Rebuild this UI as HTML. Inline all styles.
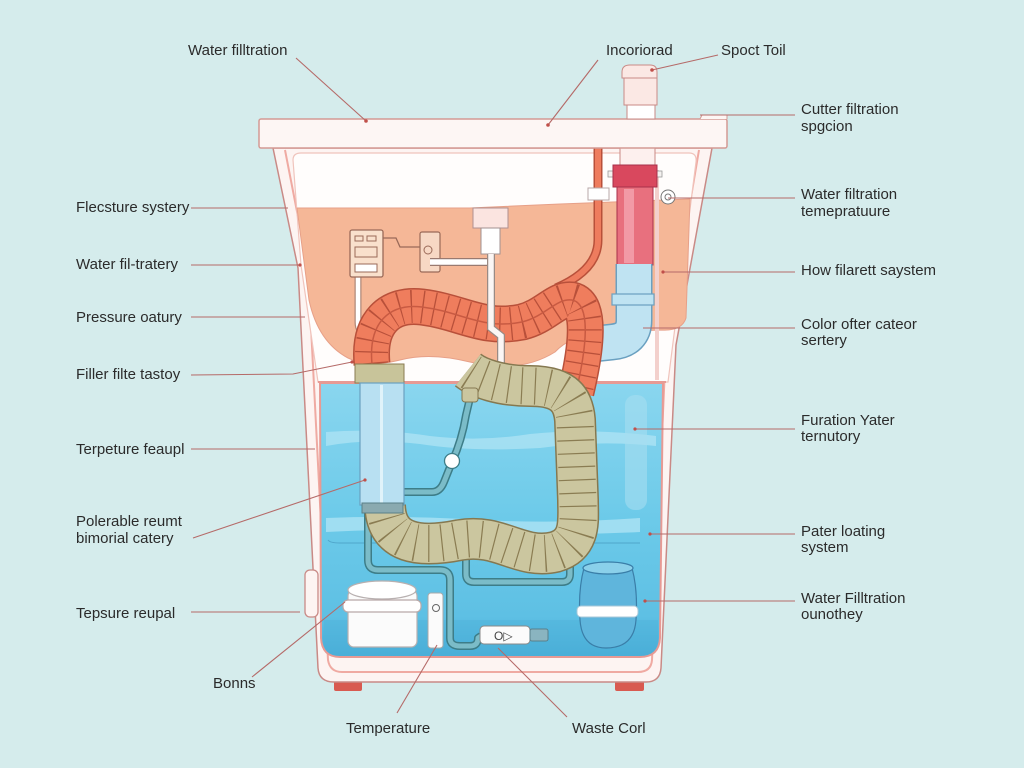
<!DOCTYPE html>
<html><head><meta charset="utf-8"><style>
html,body{margin:0;padding:0;background:#d5ecec;}
svg{display:block;}
text{font-family:"Liberation Sans",sans-serif;font-size:15px;fill:#2b2b2b;}
</style></head><body>
<svg width="1024" height="768" viewBox="0 0 1024 768" xmlns="http://www.w3.org/2000/svg">
<rect width="1024" height="768" fill="#d5ecec"/>

<!-- feet -->
<rect x="334" y="680" width="28" height="11" rx="2" fill="#d85a50"/>
<rect x="615" y="680" width="29" height="11" rx="2" fill="#d85a50"/>

<!-- tank body -->
<path d="M273 148 L298 268 L318 668 Q319 682 334 682 L646 682 Q660 682 661 668 L676 345 L712 148 Z" fill="#fdf4f2" stroke="#c98a86" stroke-width="1.5"/>
<path d="M285 150 L308 268 L328 660 Q330 672 342 672 L638 672 Q651 672 652 660 L666 345 L699 150" fill="none" stroke="#efaaa2" stroke-width="2"/>
<!-- handle -->
<rect x="305" y="570" width="13" height="47" rx="5" fill="#fdf4f2" stroke="#c98a86" stroke-width="1.3"/>

<!-- inner panel -->
<path d="M293 160 Q293 153 301 153 L689 153 Q697 153 696 162 L668 382 L318 382 L301 265 Z" fill="#fffdfc" stroke="#f0c4bc" stroke-width="1.2"/>

<!-- orange region -->
<path d="M297 208 L470 208 L560 204 L690 199 L686 318 Q682 331 662 330 L600 332 Q570 336 555 352 Q520 374 470 362 Q430 352 400 360 Q368 368 348 358 Q318 342 309 300 Z" fill="#f5b797" stroke="#e7a088" stroke-width="1"/>
<rect x="655" y="170" width="4" height="210" fill="#f3d0cc"/>

<!-- water region -->
<defs>
<linearGradient id="wg" x1="0" y1="0" x2="0" y2="1">
<stop offset="0" stop-color="#8ad6ef"/>
<stop offset="0.5" stop-color="#6ccae9"/>
<stop offset="0.85" stop-color="#5ec0e4"/>
<stop offset="1" stop-color="#4aaed8"/>
</linearGradient>
</defs>
<path d="M320 383 L663 383 L660 638 Q659 657 640 657 L340 657 Q322 657 321 638 Z" fill="url(#wg)" stroke="#e79a94" stroke-width="2"/>
<line x1="318" y1="382" x2="666" y2="382" stroke="#e79a94" stroke-width="2"/>
<!-- water bands -->
<path d="M326 432 Q380 428 430 436 Q480 442 530 434 Q590 428 656 436 L656 446 Q600 440 540 448 Q470 452 420 444 Q370 438 326 446 Z" fill="#a9e2f3" opacity="0.85"/>
<path d="M326 518 Q400 515 480 520 Q560 524 640 518 L640 532 Q560 536 480 530 Q400 528 326 532 Z" fill="#a9e2f3" opacity="0.85"/>
<path d="M328 540 Q330 543 340 543 L640 543" fill="none" stroke="#3f8fb8" stroke-width="1" opacity="0.6"/>
<rect x="625" y="395" width="22" height="115" rx="10" fill="#a6def0" opacity="0.6"/>
<path d="M324 620 L658 620 L658 640 Q657 655 640 655 L340 655 Q324 655 323 640 Z" fill="#4aaed8" opacity="0.35"/>

<!-- orange thin pipe -->
<path d="M556 288 Q598 270 598 240 L598 150 Q598 136 612 136 Q626 136 626 150 L626 156" fill="none" stroke="#b8503a" stroke-width="9"/>
<path d="M556 288 Q598 270 598 240 L598 150 Q598 136 612 136 Q626 136 626 150 L626 156" fill="none" stroke="#ee7c5e" stroke-width="6"/>
<rect x="588" y="188" width="21" height="12" fill="#fff" stroke="#b8a8a8" stroke-width="1"/>

<!-- red column -->
<rect x="620" y="148" width="35" height="18" fill="#fdf0ee" stroke="#c98a86" stroke-width="1"/>
<rect x="608" y="171" width="54" height="6" fill="#f4f2f0" stroke="#999" stroke-width="0.8"/>
<rect x="613" y="165" width="44" height="22" fill="#d9485e" stroke="#a8304a" stroke-width="1"/>
<rect x="617" y="187" width="36" height="78" fill="#e8707e" stroke="#a8304a" stroke-width="1"/>
<rect x="624" y="189" width="10" height="74" fill="#f29aa6"/>
<!-- blue pipe -->
<path d="M634 264 L634 320 Q634 340 612 342 L574 346" fill="none" stroke="#6aa0c0" stroke-width="37"/>
<path d="M634 264 L634 320 Q634 340 612 342 L574 346" fill="none" stroke="#bfe3f2" stroke-width="34"/>
<rect x="612" y="294" width="42" height="11" fill="#bfe3f2" stroke="#6aa0c0" stroke-width="1.2"/>
<path d="M574 330 Q566 338 572 350" fill="none" stroke="#6aa0c0" stroke-width="1.5"/>
<!-- gauge -->
<circle cx="668" cy="197" r="7" fill="#fff" stroke="#777" stroke-width="1"/>
<circle cx="668" cy="197" r="3" fill="none" stroke="#777" stroke-width="1"/>

<!-- electrical box -->
<path d="M358 275 L358 322 Q358 332 366 334" fill="none" stroke="#b08878" stroke-width="7"/>
<path d="M358 275 L358 322 Q358 332 366 334" fill="none" stroke="#fff" stroke-width="4.5"/>
<rect x="350" y="230" width="33" height="47" rx="2" fill="#f9e0cc" stroke="#9a6a58" stroke-width="1.3"/>
<rect x="355" y="236" width="8" height="5" fill="none" stroke="#9a6a58"/>
<rect x="367" y="236" width="9" height="5" fill="none" stroke="#9a6a58"/>
<rect x="355" y="247" width="22" height="10" fill="none" stroke="#9a6a58"/>
<rect x="355" y="264" width="22" height="8" fill="#fff" stroke="#9a6a58"/>
<path d="M383 238 L396 238 L400 247 L420 247" fill="none" stroke="#9a6a58" stroke-width="1.3"/>
<rect x="420" y="232" width="20" height="40" rx="2" fill="#f7d8c4" stroke="#9a6a58" stroke-width="1.2"/>
<circle cx="428" cy="250" r="4" fill="none" stroke="#9a6a58"/>
<path d="M430 262 L487 262" fill="none" stroke="#9a7a70" stroke-width="8"/>
<path d="M430 262 L487 262" fill="none" stroke="#fff" stroke-width="5.5"/>

<!-- orange corrugated hose -->
<path d="M372 364 C368 322 390 303 422 307 C462 312 482 330 522 322 C546 316 556 298 572 300 C592 304 586 350 576 392" fill="none" stroke="#b8503a" stroke-width="37"/>
<path d="M372 364 C368 322 390 303 422 307 C462 312 482 330 522 322 C546 316 556 298 572 300 C592 304 586 350 576 392" fill="none" stroke="#ef7d5d" stroke-width="34"/>
<path d="M372 364 C368 322 390 303 422 307 C462 312 482 330 522 322 C546 316 556 298 572 300 C592 304 586 350 576 392" fill="none" stroke="#b8503a" stroke-width="33" stroke-dasharray="1.3 10"/>
<path d="M372 364 C368 322 390 303 422 307 C462 312 482 330 522 322 C546 316 556 298 572 300 C592 304 586 350 576 392" fill="none" stroke="#c85a42" stroke-width="1.5"/>

<!-- vertical white tube -->
<rect x="473" y="208" width="35" height="20" fill="#fbe4e0" stroke="#b09090" stroke-width="1"/>
<rect x="481" y="228" width="19" height="26" fill="#fff" stroke="#a09090" stroke-width="1"/>
<path d="M491 254 L491 328 L501 336 L501 384 Q501 392 512 392" fill="none" stroke="#9a8a84" stroke-width="8"/>
<path d="M491 254 L491 328 L501 336 L501 384 Q501 392 512 392" fill="none" stroke="#fbf6f4" stroke-width="5.5"/>

<!-- teal thin pipes -->
<g fill="none" stroke="#3d7d88" stroke-width="8" stroke-linejoin="round">
<path d="M368 510 L368 560 Q368 570 378 570 L440 570 Q450 570 450 580 L450 638 Q450 646 460 646 L470 646 Q478 646 478 638 L481 636"/>
<path d="M466 545 L466 574 Q466 582 474 582 L562 582 Q570 582 570 574 L570 540"/>
<path d="M403 492 L432 492 Q440 492 444 482 L452 462 Q462 440 466 415 L470 398"/>
</g>
<g fill="none" stroke="#7bbcc8" stroke-width="5" stroke-linejoin="round">
<path d="M368 510 L368 560 Q368 570 378 570 L440 570 Q450 570 450 580 L450 638 Q450 646 460 646 L470 646 Q478 646 478 638 L481 636"/>
<path d="M466 545 L466 574 Q466 582 474 582 L562 582 Q570 582 570 574 L570 540"/>
<path d="M403 492 L432 492 Q440 492 444 482 L452 462 Q462 440 466 415 L470 398"/>
</g>
<circle cx="452" cy="461" r="7.5" fill="#fff" stroke="#3d7d88" stroke-width="1.3"/>

<!-- beige corrugated hose -->
<path d="M385 505 C386 545 420 548 460 540 C500 533 520 560 555 552 C582 544 578 520 578 500 L575 420 C573 396 560 386 530 386 C500 386 478 378 468 370" fill="none" stroke="#857850" stroke-width="42"/>
<path d="M385 505 C386 545 420 548 460 540 C500 533 520 560 555 552 C582 544 578 520 578 500 L575 420 C573 396 560 386 530 386 C500 386 478 378 468 370" fill="none" stroke="#cbc69f" stroke-width="39"/>
<path d="M385 505 C386 545 420 548 460 540 C500 533 520 560 555 552 C582 544 578 520 578 500 L575 420 C573 396 560 386 530 386 C500 386 478 378 468 370" fill="none" stroke="#8a7c52" stroke-width="37" stroke-dasharray="1.2 12"/>
<rect x="462" y="388" width="16" height="14" rx="3" fill="#cbc69f" stroke="#857850" stroke-width="1"/>

<!-- left cylinder -->
<rect x="355" y="364" width="49" height="19" fill="#c8c49a" stroke="#8a7c52" stroke-width="1"/>
<rect x="360" y="383" width="44" height="122" fill="#b8e0f2" stroke="#6aa0c0" stroke-width="1.2"/>
<rect x="380" y="385" width="3" height="118" fill="#e0f3fa"/>
<rect x="362" y="503" width="41" height="10" fill="#8aaab0" stroke="#5a8088" stroke-width="1"/>

<!-- white cylinder tank -->
<rect x="348" y="590" width="69" height="57" rx="6" fill="#fbfbfb" stroke="#b8b0b0" stroke-width="1.2"/>
<ellipse cx="382" cy="590" rx="34" ry="9" fill="#fff" stroke="#b8b0b0" stroke-width="1.2"/>
<rect x="343" y="600" width="78" height="12" rx="5" fill="#fff" stroke="#b8a8a8" stroke-width="1.2"/>
<!-- small device -->
<rect x="428" y="593" width="15" height="55" rx="3" fill="#fbfbfb" stroke="#a8a8a8" stroke-width="1"/>
<circle cx="436" cy="608" r="3.5" fill="none" stroke="#666" stroke-width="1"/>
<!-- flow device -->
<rect x="480" y="626" width="50" height="18" rx="4" fill="#fbfbfb" stroke="#888" stroke-width="1"/>
<text x="494" y="640" style="font-size:12px;fill:#444">O▷</text>
<rect x="530" y="629" width="18" height="12" rx="2" fill="#8ab4c0" stroke="#5a7f8a" stroke-width="1"/>
<!-- glass jar -->
<path d="M584 568 Q578 590 580 620 Q582 648 606 648 Q634 648 636 620 Q638 590 632 568 Z" fill="#5fb5dc" stroke="#3a7ea8" stroke-width="1.2"/>
<ellipse cx="608" cy="568" rx="25" ry="6" fill="#8ad0ea" stroke="#3a7ea8" stroke-width="1.2"/>
<rect x="577" y="606" width="61" height="11" rx="4" fill="#fff" stroke="#a8c8d8" stroke-width="1"/>

<!-- lid -->
<rect x="259" y="119" width="468" height="29" rx="2" fill="#fdf6f4" stroke="#d49a94" stroke-width="1.5"/>
<path d="M700 119 L702 115 L727 115 L727 119" fill="#fdf6f4" stroke="#d49a94" stroke-width="1"/>
<!-- spout -->
<rect x="627" y="105" width="28" height="14" fill="#fff" stroke="#c98a86" stroke-width="1"/>
<rect x="624" y="74" width="33" height="31" fill="#fbe8e4" stroke="#c98a86" stroke-width="1"/>
<path d="M622 78 L622 72 Q622 65 630 65 L650 65 Q657 65 657 72 L657 78 Z" fill="#fbe8e4" stroke="#c98a86" stroke-width="1"/>

<!-- connector lines -->
<g stroke="#b56a68" stroke-width="1.1" fill="none">
<line x1="296" y1="58" x2="366" y2="121"/>
<line x1="598" y1="60" x2="548" y2="125"/>
<line x1="718" y1="55" x2="652" y2="70"/>
<line x1="700" y1="115" x2="795" y2="115"/>
<line x1="668" y1="198" x2="795" y2="198"/>
<line x1="663" y1="272" x2="795" y2="272"/>
<line x1="643" y1="328" x2="795" y2="328"/>
<line x1="635" y1="429" x2="795" y2="429"/>
<line x1="650" y1="534" x2="795" y2="534"/>
<line x1="645" y1="601" x2="795" y2="601"/>
<line x1="191" y1="208" x2="288" y2="208"/>
<line x1="191" y1="265" x2="300" y2="265"/>
<line x1="191" y1="317" x2="305" y2="317"/>
<polyline points="191,375 293,374 352,362"/>
<line x1="191" y1="449" x2="315" y2="449"/>
<line x1="193" y1="538" x2="365" y2="480"/>
<line x1="191" y1="612" x2="300" y2="612"/>
<line x1="252" y1="677" x2="345" y2="602"/>
<line x1="397" y1="713" x2="437" y2="645"/>
<line x1="567" y1="717" x2="498" y2="648"/>
</g>
<g fill="#c0504a">
<circle cx="366" cy="121" r="1.8"/><circle cx="548" cy="125" r="1.8"/><circle cx="652" cy="70" r="1.8"/>
<circle cx="300" cy="265" r="1.6"/><circle cx="352" cy="362" r="1.6"/><circle cx="365" cy="480" r="1.6"/>
<circle cx="663" cy="272" r="1.6"/><circle cx="635" cy="429" r="1.6"/><circle cx="650" cy="534" r="1.6"/><circle cx="645" cy="601" r="1.6"/>
</g>

<!-- labels -->
<text x="188" y="55">Water filltration</text>
<text x="606" y="55">Incoriorad</text>
<text x="721" y="55">Spoct Toil</text>
<text x="801" y="114">Cutter filtration</text>
<text x="801" y="131">spgcion</text>
<text x="801" y="199">Water filtration</text>
<text x="801" y="216">temepratuure</text>
<text x="801" y="275">How filarett saystem</text>
<text x="801" y="329">Color ofter cateor</text>
<text x="801" y="345">sertery</text>
<text x="801" y="425">Furation Yater</text>
<text x="801" y="441">ternutory</text>
<text x="801" y="536">Pater loating</text>
<text x="801" y="552">system</text>
<text x="801" y="603">Water Filltration</text>
<text x="801" y="619">ounothey</text>
<text x="76" y="212">Flecsture systery</text>
<text x="76" y="269">Water fil-tratery</text>
<text x="76" y="322">Pressure oatury</text>
<text x="76" y="379">Filler filte tastoy</text>
<text x="76" y="454">Terpeture feaupl</text>
<text x="76" y="526">Polerable reumt</text>
<text x="76" y="543">bimorial catery</text>
<text x="76" y="618">Tepsure reupal</text>
<text x="213" y="688">Bonns</text>
<text x="346" y="733">Temperature</text>
<text x="572" y="733">Waste Corl</text>
</svg>
</body></html>
